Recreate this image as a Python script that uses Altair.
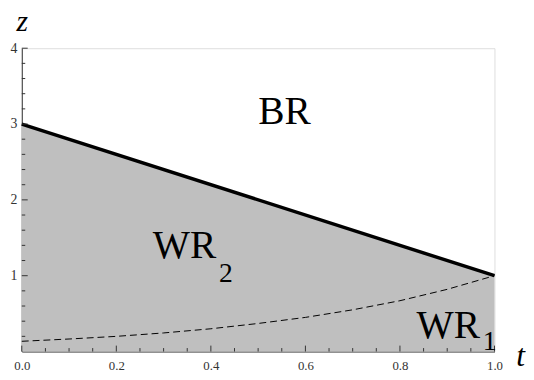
import altair as alt
import pandas as pd

# boundary between BR and WR2 (thick line)
t_bound = [0.0, 1.0]
z_bound = [3.0, 1.0]

# dashed boundary between WR2 and WR1
t_dash = [0.0, 0.1, 0.2, 0.3, 0.4, 0.5, 0.6, 0.7, 0.8, 0.9, 1.0]
z_dash = [0.135, 0.165, 0.20, 0.245, 0.30, 0.37, 0.45, 0.55, 0.67, 0.82, 1.0]

# region labels
lab_text = ["BR", "WR", "2", "WR", "1"]
lab_t = [0.50, 0.277, 0.417, 0.835, 0.975]
lab_z = [3.0, 1.23, 0.92, 0.18, 0.025]
lab_size = [40, 40, 28, 40, 28]

# ticks
x_major = [0.0, 0.2, 0.4, 0.6, 0.8, 1.0]
x_minor = [0.05, 0.1, 0.15, 0.25, 0.3, 0.35, 0.45, 0.5, 0.55,
           0.65, 0.7, 0.75, 0.85, 0.9, 0.95]
y_major = [1, 2, 3, 4]
y_minor = [0.2, 0.4, 0.6, 0.8, 1.2, 1.4, 1.6, 1.8, 2.2, 2.4, 2.6, 2.8,
           3.2, 3.4, 3.6, 3.8]

W, H = 480, 308
FONT = "Liberation Serif"
AX = "#333333"

xs = alt.Scale(domain=[0, 1], nice=False, zero=False)
ys = alt.Scale(domain=[0, 4], nice=False, zero=True)

df_b = pd.DataFrame({"t": t_bound, "z": z_bound})
df_d = pd.DataFrame({"t": t_dash, "z": z_dash})
df_l = pd.DataFrame({"txt": lab_text, "t": lab_t, "z": lab_z, "s": lab_size})

xaxis = alt.Axis(values=x_major, format=".1f", ticks=False, grid=False, labelFlush=False,
                 domainColor=AX, domainWidth=1, labelFont=FONT, labelFontSize=13,
                 labelColor=AX, labelPadding=8, title="t", titleFont=FONT,
                 titleFontStyle="italic", titleFontWeight="normal", titleFontSize=32,
                 titleColor="black", titleX=506, titleY=14, titleAlign="center",
                 titleBaseline="alphabetic")
yaxis = alt.Axis(values=y_major, format="d", ticks=False, grid=False, labelFlush=False,
                 domainColor=AX, domainWidth=1, labelFont=FONT, labelFontSize=14,
                 labelColor=AX, labelPadding=5, title="z", titleFont=FONT,
                 titleFontStyle="italic", titleFontWeight="normal", titleFontSize=30,
                 titleColor="black", titleAngle=0, titleX=0, titleY=-18,
                 titleAlign="center", titleBaseline="alphabetic")

area = alt.Chart(df_b).mark_area(color="#bfbfbf", opacity=1).encode(
    x=alt.X("t:Q", scale=xs, axis=xaxis),
    y=alt.Y("z:Q", scale=ys, axis=yaxis),
)
dash = alt.Chart(df_d).mark_line(color="black", strokeWidth=1, strokeDash=[7, 4]).encode(
    x=alt.X("t:Q", scale=xs), y=alt.Y("z:Q", scale=ys)
)
line = alt.Chart(df_b).mark_line(color="black", strokeWidth=3.5).encode(
    x=alt.X("t:Q", scale=xs), y=alt.Y("z:Q", scale=ys)
)
labels = alt.Chart(df_l).mark_text(font=FONT, align="left", baseline="alphabetic",
                                   color="black").encode(
    x=alt.X("t:Q", scale=xs), y=alt.Y("z:Q", scale=ys),
    text="txt:N", size=alt.Size("s:Q", scale=None, legend=None),
)

def xticks(vals, ln):
    return alt.Chart(pd.DataFrame({"t": vals})).mark_rule(color=AX, strokeWidth=1).encode(
        x=alt.X("t:Q", scale=xs), y=alt.value(H), y2=alt.value(H - ln))

def yticks(vals, ln):
    return alt.Chart(pd.DataFrame({"z": vals})).mark_rule(color=AX, strokeWidth=1).encode(
        y=alt.Y("z:Q", scale=ys), x=alt.value(0), x2=alt.value(ln))

chart = alt.layer(
    area, dash, line,
    xticks(x_major, 6), xticks(x_minor, 3.5),
    yticks(y_major, 6), yticks(y_minor, 3.5),
    labels,
).properties(
    width=W, height=H,
    autosize=alt.AutoSizeParams(type="none"),
    padding={"left": 14, "top": 38, "right": 32, "bottom": 20},
).configure_view(stroke=None).configure(background="white", font=FONT)

chart.save("out.html", embed_options={"renderer": "svg", "actions": False})
